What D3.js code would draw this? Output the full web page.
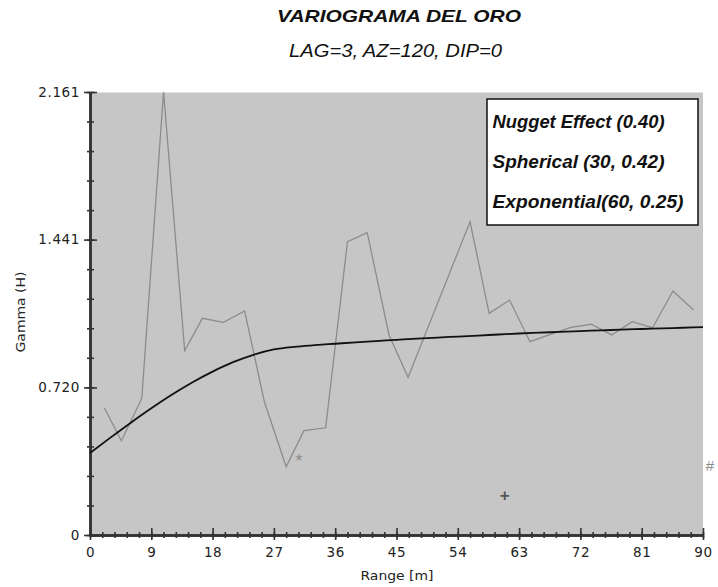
<!DOCTYPE html>
<html>
<head>
<meta charset="utf-8">
<script src="https://cdn.jsdelivr.net/npm/d3@7"></script>
<style>
  html, body { margin: 0; padding: 0; background: #ffffff; }
  svg { display: block; }
</style>
</head>
<body>
<svg id="chart" width="718" height="587"></svg>
<script>
// ---------- DATA ----------
const titleText = "VARIOGRAMA DEL ORO";
const subtitleText = "LAG=3, AZ=120, DIP=0";
const xLabel = "Range [m]";
const yLabel = "Gamma (H)";

// experimental variogram (distance, gamma)
const lagDist = [2.1, 4.6, 7.6, 10.8, 13.9, 16.5, 19.6, 22.7, 25.6, 28.8, 31.4, 34.6, 37.8, 40.7, 43.9, 46.7, 49.7, 52.7, 55.8, 58.6, 61.6, 64.6, 67.6, 70.6, 73.6, 76.6, 79.6, 82.6, 85.6, 88.6];
const gammaExp = [0.621, 0.459, 0.667, 2.161, 0.899, 1.057, 1.037, 1.093, 0.650, 0.333, 0.509, 0.523, 1.431, 1.475, 0.976, 0.769, 1.02, 1.27, 1.528, 1.081, 1.146, 0.943, 0.979, 1.013, 1.028, 0.976, 1.041, 1.011, 1.190, 1.098];

// fitted model curve (read at every 3 m)
const modelDist = [0, 3, 6, 9, 12, 15, 18, 21, 24, 27, 30, 33, 36, 39, 42, 45, 48, 51, 54, 57, 60, 63, 66, 69, 72, 75, 78, 81, 84, 87, 90];
const modelGamma = [0.400, 0.475, 0.548, 0.618, 0.684, 0.744, 0.797, 0.843, 0.879, 0.905, 0.918, 0.926, 0.933, 0.940, 0.946, 0.952, 0.958, 0.963, 0.968, 0.973, 0.978, 0.983, 0.987, 0.991, 0.995, 0.998, 1.002, 1.005, 1.008, 1.011, 1.014];

// legend lines
const legendLines = ["Nugget Effect (0.40)", "Spherical (30, 0.42)", "Exponential(60, 0.25)"];

// axis ticks
const yMajorTicks = [0, 0.720, 1.441, 2.161];
const yMajorLabels = ["0", "0.720", "1.441", "2.161"];
const xMajorTicks = [0, 9, 18, 27, 36, 45, 54, 63, 72, 81, 90];
const xMinorStep = 1.8;
const yMinorCount = 15;

// stray symbols in the plot
const markerSyms = ["*", "+", "#"];
const markerDist = [30.7, 60.9, 91.0];
const markerGamma = [0.38, 0.195, 0.337];

// ---------- LAYOUT ----------
const svg = d3.select("#chart");
const plot = { left: 90, right: 703, top: 92, bottom: 535 };
const xMax = 90, yMax = 2.161;

const x = d3.scaleLinear().domain([0, xMax]).range([plot.left, plot.right]);
const y = d3.scaleLinear().domain([0, yMax]).range([plot.bottom, plot.top]);

// plot background
svg.append("rect")
  .attr("x", plot.left).attr("y", plot.top)
  .attr("width", plot.right - plot.left).attr("height", plot.bottom - plot.top)
  .attr("fill", "#c6c6c6");
svg.append("line")
  .attr("x1", plot.left).attr("x2", plot.right)
  .attr("y1", plot.top + 0.5).attr("y2", plot.top + 0.5)
  .attr("stroke", "#e2e2e2").attr("stroke-width", 1);

// titles
svg.append("text")
  .attr("x", 277).attr("y", 22)
  .attr("textLength", 244).attr("lengthAdjust", "spacingAndGlyphs")
  .style("font-family", "'Liberation Sans', Arial, sans-serif")
  .style("font-size", "17px").style("font-weight", "bold").style("font-style", "italic")
  .attr("fill", "#111")
  .text(titleText);
svg.append("text")
  .attr("x", 289).attr("y", 57)
  .attr("textLength", 213).attr("lengthAdjust", "spacingAndGlyphs")
  .style("font-family", "'Liberation Sans', Arial, sans-serif")
  .style("font-size", "17.5px").style("font-style", "italic")
  .attr("fill", "#111")
  .text(subtitleText);

// ---------- AXES ----------
const tickFont = "'DejaVu Sans', Verdana, sans-serif";
const yMinor = d3.range(yMinorCount + 1).map(i => i * yMax / yMinorCount);
const xMinor = d3.range(0, xMax + 0.001, xMinorStep);

function styleAxis(g) {
  g.selectAll("path.domain").attr("stroke", "#333").attr("stroke-width", 2);
  g.selectAll(".tick line").attr("stroke", "#333").attr("stroke-width", 1.6);
  g.selectAll(".tick text")
    .style("font-family", tickFont).style("font-size", "13.5px")
    .style("letter-spacing", "0.6px").attr("fill", "#222");
}

const yAxisG = svg.append("g").attr("transform", `translate(${plot.left},0)`);
yAxisG.append("g").call(d3.axisLeft(y).tickValues(yMinor).tickSize(3).tickSizeOuter(0).tickFormat("")).call(styleAxis);
yAxisG.append("g").call(d3.axisRight(y).tickValues(yMinor).tickSize(4).tickSizeOuter(0).tickFormat("")).call(styleAxis);
yAxisG.append("g").call(d3.axisRight(y).tickValues(yMajorTicks).tickSize(7).tickSizeOuter(0).tickFormat("")).call(styleAxis);
yAxisG.append("g").call(
  d3.axisLeft(y).tickValues(yMajorTicks).tickSize(6).tickSizeOuter(0).tickPadding(4)
    .tickFormat((d, i) => yMajorLabels[i])).call(styleAxis);

const xAxisG = svg.append("g").attr("transform", `translate(0,${plot.bottom})`);
xAxisG.append("g").call(d3.axisBottom(x).tickValues(xMinor).tickSize(3).tickSizeOuter(0).tickFormat("")).call(styleAxis);
xAxisG.append("g").call(d3.axisTop(x).tickValues(xMinor).tickSize(3).tickSizeOuter(0).tickFormat("")).call(styleAxis);
xAxisG.append("g").call(d3.axisTop(x).tickValues(xMajorTicks).tickSize(7).tickSizeOuter(0).tickFormat("")).call(styleAxis);
xAxisG.append("g").call(
  d3.axisBottom(x).tickValues(xMajorTicks).tickSize(5).tickSizeOuter(0).tickPadding(7)
    .tickFormat(d3.format("d"))).call(styleAxis);

// axis titles
svg.append("text")
  .attr("x", 397).attr("y", 580).attr("text-anchor", "middle")
  .attr("textLength", 73).attr("lengthAdjust", "spacingAndGlyphs")
  .style("font-family", tickFont).style("font-size", "12.5px").attr("fill", "#222")
  .text(xLabel);
svg.append("text")
  .attr("transform", "translate(25,312) rotate(-90)")
  .attr("text-anchor", "middle")
  .attr("textLength", 81).attr("lengthAdjust", "spacingAndGlyphs")
  .style("font-family", tickFont).style("font-size", "11.5px").attr("fill", "#222")
  .text(yLabel);

// ---------- SERIES ----------
const expData = lagDist.map((d, i) => ({ h: d, g: gammaExp[i] }));
const modelData = modelDist.map((d, i) => ({ h: d, g: modelGamma[i] }));

svg.append("path")
  .datum(expData)
  .attr("fill", "none").attr("stroke", "#8c8c8c").attr("stroke-width", 1.3)
  .attr("d", d3.line().x(d => x(d.h)).y(d => y(d.g)));

svg.append("path")
  .datum(modelData)
  .attr("fill", "none").attr("stroke", "#111").attr("stroke-width", 1.8)
  .attr("d", d3.line().curve(d3.curveMonotoneX).x(d => x(d.h)).y(d => y(d.g)));

// stray symbols
const markerColors = ["#8a8a8a", "#555", "#8a8a8a"];
const markerSizes = [18, 17, 15];
const markerDy = [4, 0, 0];
svg.selectAll("text.marker")
  .data(markerSyms.map((s, i) => ({ s, h: markerDist[i], g: markerGamma[i], i })))
  .enter().append("text")
  .attr("class", "marker")
  .attr("x", d => x(d.h)).attr("y", d => y(d.g) + markerDy[d.i])
  .attr("text-anchor", "middle").attr("dominant-baseline", "central")
  .style("font-family", "'Liberation Sans', Arial, sans-serif")
  .style("font-size", d => markerSizes[d.i] + "px")
  .style("font-weight", d => d.s === "+" ? "bold" : "normal")
  .attr("fill", d => markerColors[d.i])
  .text(d => d.s);

// ---------- LEGEND ----------
const leg = { x: 487, y: 99, w: 211, h: 126 };
svg.append("rect")
  .attr("x", leg.x).attr("y", leg.y).attr("width", leg.w).attr("height", leg.h)
  .attr("fill", "#ffffff").attr("stroke", "#111").attr("stroke-width", 1.5);
const legLengths = [172, 172, 191];
svg.selectAll("text.leg")
  .data(legendLines)
  .enter().append("text")
  .attr("class", "leg")
  .attr("x", 492.5).attr("y", (d, i) => 128 + i * 40)
  .attr("textLength", (d, i) => legLengths[i]).attr("lengthAdjust", "spacingAndGlyphs")
  .style("font-family", "'Liberation Sans', Arial, sans-serif")
  .style("font-size", "17.5px").style("font-weight", "bold").style("font-style", "italic")
  .attr("fill", "#111")
  .text(d => d);
</script>
</body>
</html>
